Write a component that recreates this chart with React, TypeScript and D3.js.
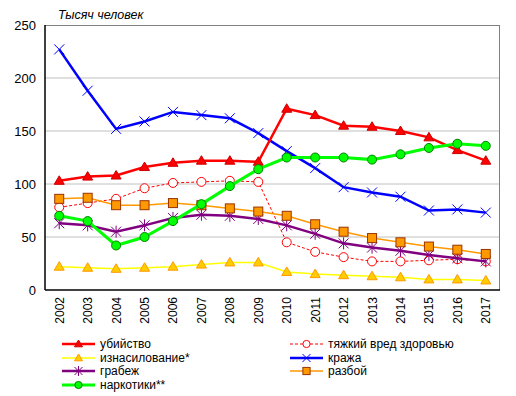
import React from "react";
import * as d3 from "d3";

const years = [
  "2002", "2003", "2004", "2005", "2006", "2007", "2008", "2009",
  "2010", "2011", "2012", "2013", "2014", "2015", "2016", "2017",
];

const murder = [103, 107, 108, 116, 120, 122, 122, 121, 171, 165, 155, 154, 150, 144, 132, 122];
const harm = [78, 82, 86, 96, 101, 102, 103, 102, 45, 36, 31, 27, 27, 28, 29, 27];
const rape = [22, 21, 20, 21, 22, 24, 26, 26, 17, 15, 14, 13, 12, 10, 10, 9];
const theft = [227, 188, 152, 159, 168, 165, 162, 148, 131, 115, 97, 92, 88, 75, 76, 73];
const robbery = [63, 61, 55, 61, 68, 71, 70, 67, 61, 53, 44, 40, 37, 33, 30, 27];
const assault = [86, 87, 80, 80, 82, 80, 77, 74, 70, 62, 55, 49, 45, 41, 38, 34];
const drugs = [70, 65, 42, 50, 65, 81, 98, 114, 125, 125, 125, 123, 128, 134, 138, 136];

const yTicks = [0, 50, 100, 150, 200, 250];

type Marker = "triangle" | "circle" | "x" | "star" | "square";

interface Series {
  name: string;
  values: number[];
  color: string;
  width: number;
  dash?: string;
  marker: Marker;
  fill: string;
  edge: string;
}

const series: Series[] = [
  { name: "убийство", values: murder, color: "#ff0000", width: 2.5, marker: "triangle", fill: "#ff0000", edge: "#cc0000" },
  { name: "тяжкий вред здоровью", values: harm, color: "#ff0000", width: 1, dash: "3,2", marker: "circle", fill: "#ffffff", edge: "#ff0000" },
  { name: "изнасилование*", values: rape, color: "#ffff00", width: 1.5, marker: "triangle", fill: "#ffcc00", edge: "#ff9900" },
  { name: "кража", values: theft, color: "#0000ff", width: 2.5, marker: "x", fill: "none", edge: "#0000ff" },
  { name: "грабеж", values: robbery, color: "#800080", width: 2.5, marker: "star", fill: "none", edge: "#800080" },
  { name: "разбой", values: assault, color: "#ff9900", width: 1.5, marker: "square", fill: "#ff9900", edge: "#993300" },
  { name: "наркотики**", values: drugs, color: "#00ff00", width: 3, marker: "circle", fill: "#00ff00", edge: "#008000" },
];

const drawOrder = [3, 1, 2, 4, 5, 0, 6];

const legendPos: [number, number][] = [
  [62, 344], [290, 344], [62, 358], [290, 358], [62, 371], [290, 371], [62, 385],
];

const margin = { left: 45, right: 16, top: 25, bottom: 106 };
const W = 516;
const H = 396;

function MarkerShape({ m, x, y, fill, edge, s = 1 }: { m: Marker; x: number; y: number; fill: string; edge: string; s?: number }) {
  const r = 5 * s;
  if (m === "triangle") {
    return <path d={`M${x},${y - r}L${x + r},${y + r * 0.7}L${x - r},${y + r * 0.7}Z`} fill={fill} stroke={edge} strokeWidth={1} />;
  }
  if (m === "circle") {
    return <circle cx={x} cy={y} r={4.5 * s} fill={fill} stroke={edge} strokeWidth={1} />;
  }
  if (m === "square") {
    return <rect x={x - 4.5 * s} y={y - 4.5 * s} width={9 * s} height={9 * s} fill={fill} stroke={edge} strokeWidth={1} />;
  }
  if (m === "x") {
    return <path d={`M${x - r},${y - r}L${x + r},${y + r}M${x - r},${y + r}L${x + r},${y - r}`} stroke={edge} strokeWidth={1} fill="none" />;
  }
  return (
    <path
      d={`M${x - r},${y - r}L${x + r},${y + r}M${x - r},${y + r}L${x + r},${y - r}M${x},${y - r - 1}L${x},${y + r + 1}`}
      stroke={edge}
      strokeWidth={1}
      fill="none"
    />
  );
}

export default function App() {
  const x = d3.scaleBand<string>().domain(years).range([margin.left, W - margin.right]).padding(0);
  const y = d3.scaleLinear().domain([0, 250]).range([H - margin.bottom, margin.top]);
  const cx = (yr: string) => (x(yr) ?? 0) + x.bandwidth() / 2;
  const line = d3
    .line<number>()
    .x((_, i) => cx(years[i]))
    .y((d) => y(d));

  const left = margin.left;
  const right = W - margin.right;
  const top = margin.top;
  const bottom = H - margin.bottom;

  return (
    <svg
      width={W}
      height={H}
      style={{ position: "absolute", left: 0, top: 0, background: "#fff" }}
      fontFamily="'Liberation Sans', Arial, sans-serif"
    >
      {/* gridlines */}
      {yTicks.slice(1, -1).map((t) => (
        <line key={t} x1={left} x2={right} y1={y(t)} y2={y(t)} stroke="#c0c0c0" strokeWidth={1} />
      ))}
      {/* frame */}
      <line x1={left} x2={right} y1={top + 0.5} y2={top + 0.5} stroke="#808080" />
      <line x1={right - 0.5} x2={right - 0.5} y1={top} y2={bottom} stroke="#808080" />
      <line x1={left} x2={left} y1={top} y2={bottom} stroke="#000" strokeWidth={1.5} />
      <line x1={left} x2={right} y1={bottom} y2={bottom} stroke="#000" strokeWidth={1.5} />

      {/* y labels */}
      {yTicks.map((t) => (
        <text key={t} x={36} y={y(t)} dy="0.35em" textAnchor="end" fontSize={13} fill="#000">
          {t}
        </text>
      ))}
      <text x={58} y={19} fontSize={12.5} fontStyle="italic" fill="#000">
        Тысяч человек
      </text>

      {/* x labels */}
      {years.map((yr) => (
        <text
          key={yr}
          transform={`translate(${cx(yr) + 4.5},${bottom + 7}) rotate(-90)`}
          textAnchor="end"
          fontSize={12}
          fill="#000"
        >
          {yr}
        </text>
      ))}

      {/* series */}
      {drawOrder.map((si) => {
        const s = series[si];
        return (
          <g key={s.name}>
            <path d={line(s.values) ?? ""} fill="none" stroke={s.color} strokeWidth={s.width} strokeDasharray={s.dash} />
            {s.values.map((v, i) => (
              <MarkerShape key={i} m={s.marker} x={cx(years[i])} y={y(v)} fill={s.fill} edge={s.edge} />
            ))}
          </g>
        );
      })}

      {/* legend */}
      {series.map((s, i) => {
        const [lx, ly] = legendPos[i];
        return (
          <g key={s.name}>
            <line x1={lx} x2={lx + 33} y1={ly} y2={ly} stroke={s.color} strokeWidth={s.width} strokeDasharray={s.dash} />
            <MarkerShape m={s.marker} x={lx + 16.5} y={ly} fill={s.fill} edge={s.edge} s={0.8} />
            <text x={lx + 38} y={ly} dy="0.35em" fontSize={12} fill="#000">
              {s.name}
            </text>
          </g>
        );
      })}
    </svg>
  );
}
